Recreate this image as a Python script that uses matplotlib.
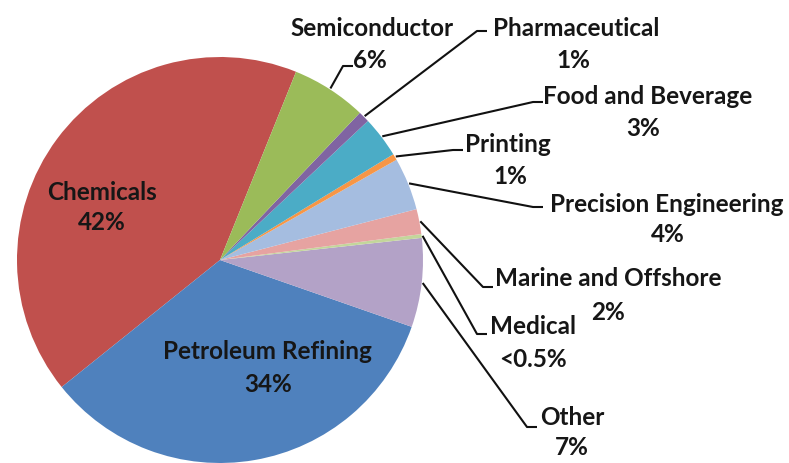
import numpy as np
import matplotlib
matplotlib.use('Agg')
import matplotlib.pyplot as plt

# Data (counterclockwise order starting from Chemicals)
sectors = ['Chemicals', 'Petroleum Refining', 'Other', 'Medical', 'Marine and Offshore',
           'Precision Engineering', 'Printing', 'Food and Beverage', 'Pharmaceutical',
           'Semiconductor']
shares = [42.0, 34.0, 7.1, 0.3, 2.0, 4.2, 0.5, 3.3, 0.9, 6.0]
pct_labels = ['42%', '34%', '7%', '<0.5%', '2%', '4%', '1%', '3%', '1%', '6%']
colors = ['#C0504D', '#4F81BD', '#B3A2C7', '#C3D69B', '#E6A3A1',
          '#A5BDE0', '#F79646', '#4BACC6', '#8064A2', '#9BBB59']

W, H = 789, 464
fig = plt.figure(figsize=(W / 100, H / 100), dpi=100)
ax = fig.add_axes([0, 0, 1, 1])

cx, cy, r = 220, H - 261, 203
wedges, _ = ax.pie(shares, colors=colors, startangle=68, counterclock=True,
                   center=(cx, cy), radius=r, frame=True,
                   wedgeprops=dict(linewidth=0))
ax.set_xlim(0, W)
ax.set_ylim(0, H)
ax.set_aspect('equal')
ax.axis('off')

font = dict(family=['Lato', 'DejaVu Sans'], fontweight='bold', fontsize=17.5, color='#161616')

# label layout in image pixels: name centre, pct centre, elbow point
layout = {
    'Chemicals': ((102, 192), (102, 223), None),
    'Petroleum Refining': ((267, 352), (268, 385), None),
    'Semiconductor': ((372, 28), (370, 60), (343, 67)),
    'Pharmaceutical': ((576, 28), (573, 60), (477, 32)),
    'Food and Beverage': ((648, 97), (643, 128), (533, 103)),
    'Printing': ((508, 145), (510, 177), (453, 151)),
    'Precision Engineering': ((667, 205), (668, 235), (533, 208)),
    'Marine and Offshore': ((608, 278), (608, 312), (483, 288)),
    'Medical': ((533, 327), (533, 360), (477, 335)),
    'Other': ((572, 418), (572, 448), (527, 428)),
}

for w, name, pct in zip(wedges, sectors, pct_labels):
    (nx, ny), (px, py), elbow = layout[name]
    ax.text(nx, H - ny, name, ha='center', va='center', **font)
    ax.text(px, H - py, pct, ha='center', va='center', **font)
    if elbow is None:
        continue
    mid = np.deg2rad((w.theta1 + w.theta2) / 2)
    sx, sy = cx + (r + 1) * np.cos(mid), cy + (r + 1) * np.sin(mid)
    ex, ey = elbow
    ax.plot([sx, ex, ex + 10], [sy, H - ey, H - ey], color='#111111', lw=1.5,
            solid_capstyle='butt')

fig.savefig('out.png', dpi=100)
